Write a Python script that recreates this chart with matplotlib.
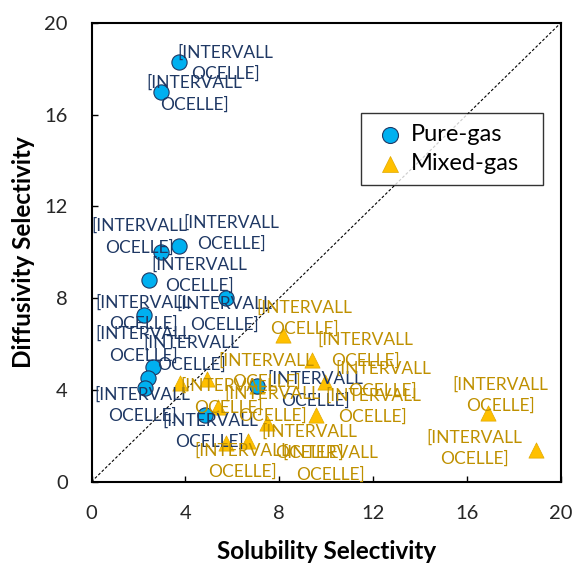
import matplotlib
matplotlib.use('Agg')
import matplotlib.pyplot as plt
import numpy as np

plt.rcParams['font.family'] = ['Lato', 'DejaVu Sans']

# pure-gas points (solubility sel., diffusivity sel.)
pure_x = [3.74, 2.95, 3.74, 2.95, 2.47, 5.72, 2.24, 2.63, 2.39, 2.27, 4.83, 7.03]
pure_y = [18.27, 16.99, 10.27, 9.99, 8.79, 7.99, 7.26, 5.01, 4.50, 4.07, 2.90, 4.18]

# mixed-gas points
mixed_x = [8.14, 9.38, 9.94, 3.79, 4.93, 5.37, 7.46, 9.56, 6.68, 5.72, 16.88, 18.92, 7.05]
mixed_y = [6.39, 5.30, 4.36, 4.31, 4.46, 3.27, 2.54, 2.90, 1.79, 1.67, 2.98, 1.38, 4.15]

label_text = '[INTERVALL\nOCELLE]'
ticks = [0, 4, 8, 12, 16, 20]

# label offsets from the marker, in pixels (right, down)
pure_off = [(46, 1), (34, 2), (52, -13), (-21, -16), (50, -5), (-1, 16),
            (-1, -2), (38, -13), (-4, -34), (-2, 17), (5, 16), (59, 4)]
mixed_off = [(22, -17), (54, -10), (58, -2), (48, 14), (59, -8), (55, -2),
             (43, 19), (57, -9), (82, 23), (17, 18), (13, -18), (-61, -2)]

fig = plt.figure(figsize=(5.73, 5.65), dpi=100)
ax = fig.add_axes([0.1597, 0.1474, 0.8193, 0.8124])

ax.plot([0, 20], [0, 20], color='black', lw=0.8, ls=(0, (2.5, 1.8)), zorder=1)

ax.scatter(mixed_x, mixed_y, marker='^', s=120, color='#FFC000',
           edgecolor='#E0A800', linewidth=0.5, zorder=3, label='Mixed-gas')
ax.scatter(pure_x, pure_y, marker='o', s=120, color='#00B0F0',
           edgecolor='#1F3864', linewidth=0.8, zorder=4, label='Pure-gas')

for x, y, (dx, dy) in zip(pure_x, pure_y, pure_off):
    ax.annotate(label_text, (x, y), xytext=(dx * 0.72, -dy * 0.72),
                textcoords='offset points', ha='center', va='center',
                multialignment='center', fontsize=12.5, linespacing=1.4,
                color='#1F3864', zorder=5)
for x, y, (dx, dy) in zip(mixed_x, mixed_y, mixed_off):
    ax.annotate(label_text, (x, y), xytext=(dx * 0.72, -dy * 0.72),
                textcoords='offset points', ha='center', va='center',
                multialignment='center', fontsize=12.5, linespacing=1.4,
                color='#BF9000', zorder=5)

ax.set_xlim(0, 20)
ax.set_ylim(0, 20)
ax.set_xticks(ticks)
ax.set_yticks(ticks)
ax.tick_params(direction='in', length=4, width=1, labelsize=14.5,
               labelcolor='#262626', pad=17)
for s in ax.spines.values():
    s.set_linewidth(1.5)
    s.set_color('black')

ax.set_xlabel('Solubility Selectivity', fontsize=17.5, fontweight='bold', va='center')
ax.set_ylabel('Diffusivity Selectivity', fontsize=17.5, fontweight='bold', va='center')
ax.xaxis.set_label_coords(0.5, -0.151)
ax.yaxis.set_label_coords(-0.144, 0.5)

handles, labels = ax.get_legend_handles_labels()
leg = ax.legend(handles[::-1], labels[::-1], loc='upper left',
                bbox_to_anchor=(0.574, 0.646, 0.388, 0.157), mode='expand',
                borderaxespad=0, fontsize=17, frameon=True, fancybox=False,
                edgecolor='black', handletextpad=0.05, borderpad=0.45,
                labelspacing=0.35, handlelength=1.6, markerscale=1.05)
leg.get_frame().set_linewidth(1.0)
leg.set_zorder(6)

fig.savefig('out.png', dpi=100)
